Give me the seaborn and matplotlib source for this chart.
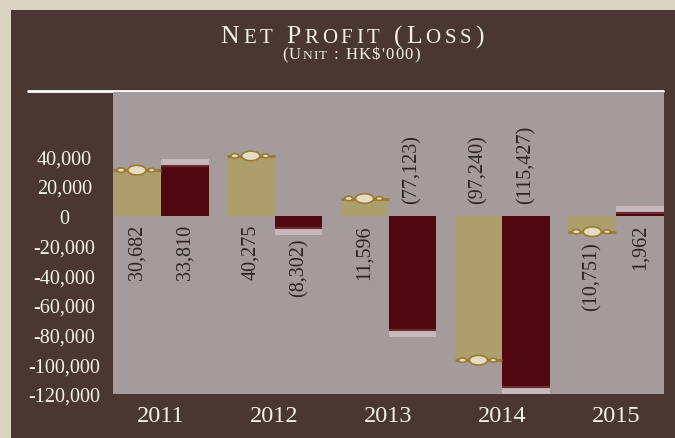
import matplotlib
matplotlib.use("Agg")
import matplotlib.pyplot as plt
import matplotlib.patches as mpatches
import matplotlib.lines as mlines
from matplotlib.ticker import FuncFormatter
from matplotlib.offsetbox import TextArea, HPacker, AnnotationBbox
import pandas as pd
import seaborn as sns

# data
years = ['2011', '2012', '2013', '2014', '2015']
series_a = [30682, 40275, 11596, -97240, -10751]
series_b = [33810, -8302, -77123, -115427, 1962]
y_ticks = [40000, 20000, 0, -20000, -40000, -60000, -80000, -100000, -120000]

df = pd.DataFrame({
    'year': years * 2,
    'value': series_a + series_b,
    'series': ['A'] * len(years) + ['B'] * len(years),
})

# colours
outer_bg = '#ddd3c2'
panel_bg = '#4b3731'
plot_bg = '#a59b9a'
beige = '#ad9f6c'
wine = '#4f0810'
label_col = '#2b2626'
white = '#f4f0ea'

sns.set_theme(style='white')
plt.rcParams['font.family'] = ['Liberation Serif', 'DejaVu Serif']

fig = plt.figure(figsize=(6.75, 4.39), dpi=100)
fig.patch.set_facecolor(outer_bg)
W, H = 675, 439

# dark panel
fig.patches.append(mpatches.Rectangle((11 / W, 0), 1, (H - 11) / H,
                                      transform=fig.transFigure,
                                      facecolor=panel_bg, edgecolor='none', zorder=-5))
# white rule under the title
fig.lines.append(mlines.Line2D([27.5 / W, 663 / W], [(H - 92) / H] * 2,
                               transform=fig.transFigure, color='white', lw=2, zorder=-4))

ax = fig.add_axes([113 / W, (H - 395) / H, (664 - 113) / W, (395 - 93) / H])
ax.set_facecolor(plot_bg)

sns.barplot(data=df, x='year', y='value', hue='series', palette=[beige, wine],
            width=0.84, saturation=1, legend=False, ax=ax, zorder=2,
            edgecolor='none', linewidth=0)

ax.set_xlim(-0.42, 4.42)
ax.set_ylim(-120000, 83300)
ax.set_yticks(y_ticks)
ax.yaxis.set_major_formatter(FuncFormatter(lambda v, p: f'{v:,.0f}'))
ax.set_xlabel('')
ax.set_ylabel('')
for s in ax.spines.values():
    s.set_visible(False)
ax.tick_params(axis='both', length=0)
ax.tick_params(axis='y', pad=35, labelsize=14.5, labelcolor=white)
ax.tick_params(axis='x', pad=8, labelsize=17.5, labelcolor=white)
for t in ax.get_yticklabels():
    t.set_horizontalalignment('center')


def fmt(v):
    return f'{v:,}' if v >= 0 else f'({-v:,})'


# liquid-style caps at the bar ends
for i, cont in enumerate(ax.containers):
    for bar in cont:
        v = bar.get_height()
        x0 = bar.get_x()
        w = bar.get_width()
        xc = x0 + w / 2
        sgn = 1 if v >= 0 else -1
        if i == 0:
            ax.plot([x0, x0 + w], [v, v], color='#9a7a30', lw=2, zorder=3,
                    solid_capstyle='butt')
            for dx, ew, eh in [(-0.14, 0.07, 3000), (0.13, 0.06, 2600), (0.0, 0.16, 6500)]:
                ax.add_patch(mpatches.Ellipse((xc + dx * w / 0.42, v), ew, eh,
                                              facecolor='#e6dcc4', edgecolor='#9a7a30',
                                              lw=1.2, zorder=4))
        else:
            ax.add_patch(mpatches.Rectangle((x0, v), w, sgn * 4500, facecolor='#c7b9b9',
                                            edgecolor='none', zorder=3))
            ax.plot([x0, x0 + w], [v, v], color='#6e2a33', lw=1.5, zorder=4,
                    solid_capstyle='butt')

# value labels, rotated
for cont in ax.containers:
    for bar in cont:
        v = bar.get_height()
        xc = bar.get_x() + bar.get_width() / 2
        if v >= 0:
            ax.annotate(fmt(int(v)), (xc, 0), xytext=(0, -6), textcoords='offset points',
                        rotation=90, ha='center', va='top', fontsize=14.5, color=label_col)
        elif v < -50000:
            ax.annotate(fmt(int(round(v))), (xc, 0), xytext=(0, 9), textcoords='offset points',
                        rotation=90, ha='center', va='bottom', fontsize=14.5, color=label_col)
        else:
            ax.annotate(fmt(int(round(v))), (xc, v), xytext=(0, -7), textcoords='offset points',
                        rotation=90, ha='center', va='top', fontsize=14.5, color=label_col)


def small_caps(text, big, small, sep):
    parts = []
    for ch in text:
        size = small if ch.islower() else big
        parts.append(TextArea(ch.upper() if ch != ' ' else '\u00a0',
                              textprops=dict(color=white, fontsize=size,
                                             family=['Liberation Serif', 'DejaVu Serif'])))
    return HPacker(children=parts, align='baseline', pad=0, sep=sep)


title = small_caps('Net Profit (Loss)', 18.5, 15, 2.7)
fig.add_artist(AnnotationBbox(title, (352 / W, (H - 37) / H), xycoords='figure fraction',
                              frameon=False, box_alignment=(0.5, 0.5)))
sub = small_caps("(Unit : HK$'000)", 12, 9.6, 0.9)
fig.add_artist(AnnotationBbox(sub, (351 / W, (H - 55) / H), xycoords='figure fraction',
                              frameon=False, box_alignment=(0.5, 0.5)))

fig.savefig('out.png', dpi=100, facecolor=fig.get_facecolor())
